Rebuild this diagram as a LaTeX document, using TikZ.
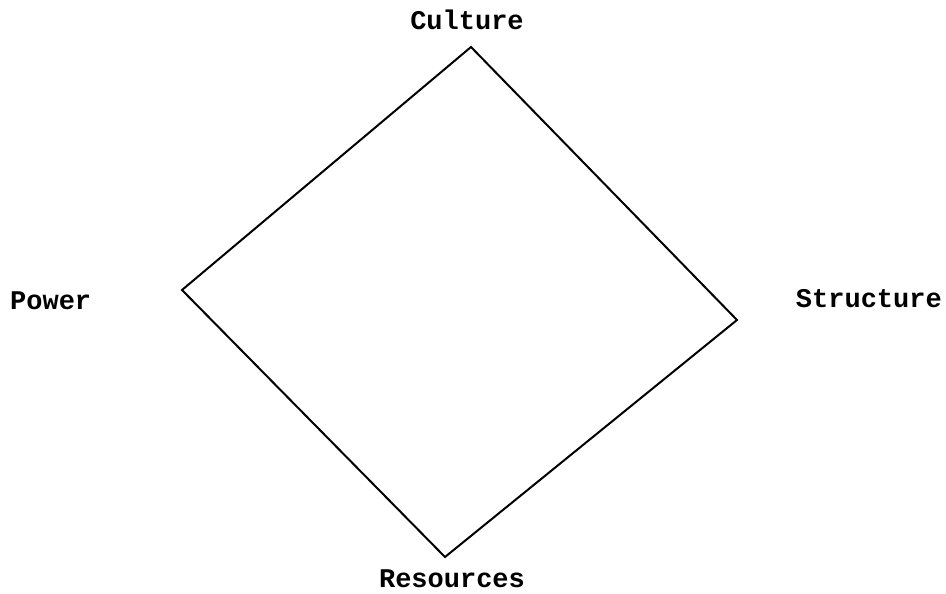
\documentclass[tikz,border=0pt]{standalone}
\usepackage{fontspec}
\setmonofont{Liberation Mono}
\begin{document}
\begin{tikzpicture}[x=1pt,y=-1pt,
  lbl/.style={font=\ttfamily\bfseries\fontsize{27}{30}\selectfont, inner sep=0pt},
  edge/.style={line width=2pt, line join=miter}]
  \useasboundingbox (0,0) rectangle (946,594);
  % corners of the quadrilateral
  \coordinate (top) at (471,47);
  \coordinate (right) at (737,320);
  \coordinate (bottom) at (445,557);
  \coordinate (left) at (182,290);
  \draw[edge] (top) -- (right) -- (bottom) -- (left) -- cycle;
  % labels
  \node[lbl, anchor=base] (culture) at (467,30) {Culture};
  \node[lbl, anchor=base west] (power) at (10,309) {Power};
  \node[lbl, anchor=base east] (structure) at (942,307) {Structure};
  \node[lbl, anchor=base] (resources) at (452,587) {Resources};
\end{tikzpicture}
\end{document}
